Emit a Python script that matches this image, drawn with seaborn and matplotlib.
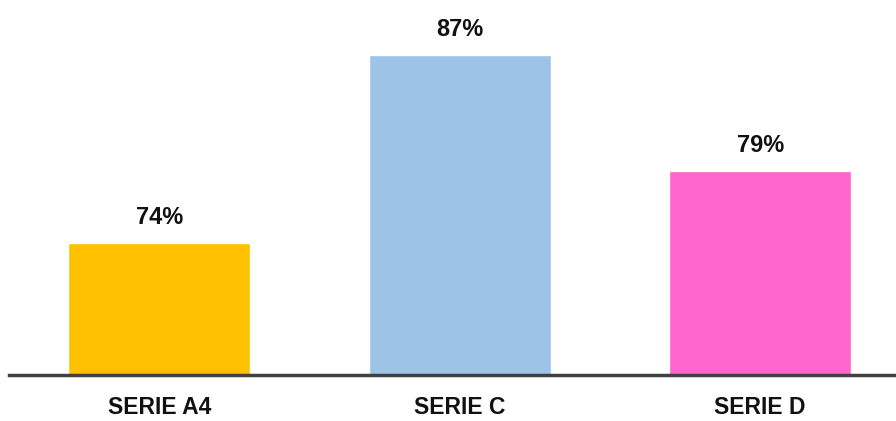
import matplotlib
matplotlib.use('Agg')
import matplotlib.pyplot as plt
import seaborn as sns
import pandas as pd

categories = ['SERIE A4', 'SERIE C', 'SERIE D']
values = [74, 87, 79]
colors = ['#FFC000', '#9DC3E6', '#FF66CC']


def main():
    sns.set_style('white')
    plt.rcParams['font.family'] = ['Liberation Sans', 'DejaVu Sans']

    df = pd.DataFrame({'serie': categories, 'valor': values})

    fig = plt.figure(figsize=(8.96, 4.21), dpi=100)
    ax = fig.add_axes([9 / 896, 46 / 421, 901.5 / 896, 375 / 421])
    sns.barplot(data=df, x='serie', y='valor', hue='serie', palette=colors,
                legend=False, width=0.605, ax=ax, saturation=1)

    ax.set_xlim(-0.5, 2.5)
    ax.set_ylim(64.9, 90.8)

    for i, v in enumerate(values):
        ax.annotate(f'{v}%', (i, v), xytext=(0, 10), textcoords='offset points',
                    ha='center', va='bottom', fontsize=17, fontweight='bold',
                    color='#111111', annotation_clip=False)

    for s in ['top', 'right', 'left']:
        ax.spines[s].set_visible(False)
    ax.spines['bottom'].set_color('#404040')
    ax.spines['bottom'].set_linewidth(2.5)
    ax.set_yticks([])
    ax.set_xlabel('')
    ax.set_ylabel('')
    ax.tick_params(axis='x', length=0, pad=15)
    for lbl in ax.get_xticklabels():
        lbl.set_fontsize(16.5)
        lbl.set_fontweight('bold')
        lbl.set_color('#111111')

    fig.savefig('out.png', dpi=100)
    plt.close(fig)


if __name__ == '__main__':
    main()
